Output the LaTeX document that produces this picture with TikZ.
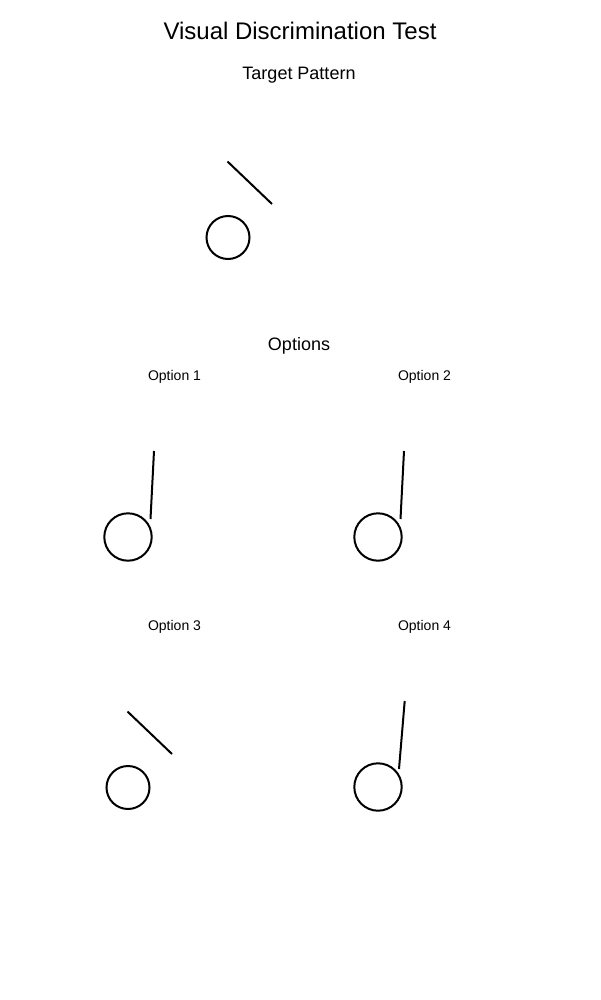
\documentclass[tikz,border=0pt]{standalone}
\usepackage{fontspec}
\setmainfont{Liberation Sans}

\begin{document}
\begin{tikzpicture}[x=1pt,y=-1pt,line width=2pt,
  title/.style={anchor=base,inner sep=0pt,font=\fontsize{24}{28}\selectfont},
  heading/.style={anchor=base,inner sep=0pt,font=\fontsize{18}{21}\selectfont},
  optlabel/.style={anchor=base,inner sep=0pt,font=\fontsize{14}{17}\selectfont}]

\useasboundingbox (0,0) rectangle (600,1000);

%% titles
\node[title] (title) at (300,40) {Visual Discrimination Test};
\node[heading] (target) at (299,79.5) {Target Pattern};
\node[heading] (options) at (299,350) {Options};

%% option labels
\node[optlabel] (opt1) at (174.5,380.5) {Option 1};
\node[optlabel] (opt2) at (424.5,380.5) {Option 2};
\node[optlabel] (opt3) at (174.5,630.5) {Option 3};
\node[optlabel] (opt4) at (424.5,630.5) {Option 4};

%% target pattern
\draw (228,237.5) circle (21.5);        %% target circle
\draw (227.5,161.5) -- (272,204);       %% target stroke

%% options
\draw (128,537) circle (23.7);          %% option 1
\draw (154,451) -- (150.5,519);
\draw (378,537) circle (23.7);          %% option 2
\draw (404,451) -- (400.5,519);
\draw (128,787.5) circle (21.5);        %% option 3
\draw (127.5,711.5) -- (172,754);
\draw (378,787) circle (23.7);          %% option 4
\draw (404.7,701) -- (399,769);

\end{tikzpicture}
\end{document}
